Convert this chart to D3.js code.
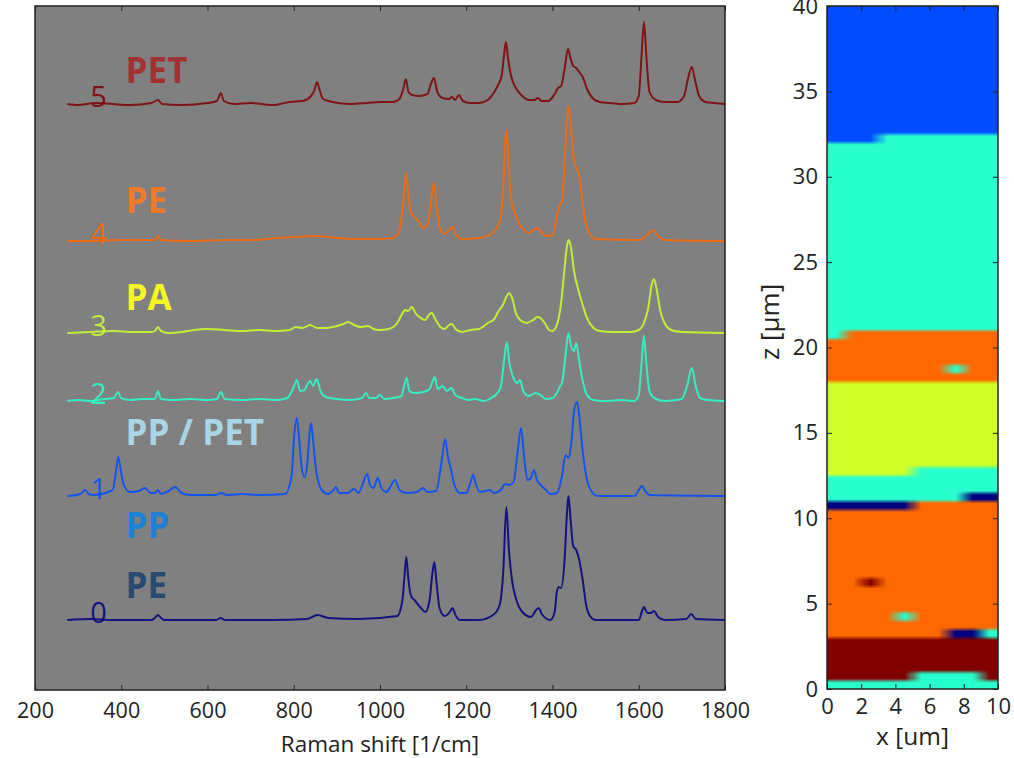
<!DOCTYPE html>
<html>
<head>
<meta charset="utf-8">
<script src="https://cdn.jsdelivr.net/npm/d3@7"></script>
<style>
	body { margin: 0; background: #fff; }
	svg text { font-family: "Open Sans", sans-serif; }
</style>
</head>
<body>
<svg id="chart" width="1014" height="758"></svg>
<script>

// ---- data ----

const ramanTicks = [200, 400, 600, 800, 1000, 1200, 1400, 1600, 1800];
const xTicksUm = [0, 2, 4, 6, 8, 10];
const zTicksUm = [0, 5, 10, 15, 20, 25, 30, 35, 40];

// vertical offset of each spectrum (a.u.)
const offsets = [70, 194, 289, 357, 449, 586];

// [raman shift 1/cm, intensity a.u. above offset]
const spectrum0 = [[275,0],[330,1],[380,0],[470,0],[480,3],[485,5],[490,3],[500,0],[620,0],[631,2],[640,0],[750,0],[830,1],[855,5],[880,2],[950,1],[1040,4],[1052,20],[1057,45],[1061,63],[1066,40],[1072,24],[1080,20],[1095,12],[1105,8],[1115,20],[1121,45],[1126,58],[1131,38],[1138,12],[1150,4],[1162,8],[1168,12],[1175,5],[1185,0],[1230,0],[1265,6],[1278,16],[1286,50],[1293,113],[1299,70],[1306,40],[1315,22],[1330,8],[1350,3],[1362,10],[1368,12],[1375,6],[1395,0],[1405,8],[1410,28],[1415,33],[1420,32],[1428,60],[1434,110],[1437,124],[1442,100],[1448,74],[1455,70],[1462,60],[1470,40],[1478,15],[1487,4],[1500,0],[1600,0],[1607,8],[1612,13],[1620,7],[1628,7],[1635,9],[1645,3],[1660,0],[1710,1],[1722,6],[1732,1],[1800,0]];

const spectrum1 = [[275,0],[305,2],[316,6],[325,2],[335,1],[380,6],[388,25],[393,39],[398,28],[405,12],[420,4],[440,5],[455,8],[468,3],[478,3],[485,6],[492,2],[510,5],[525,9],[540,3],[560,1],[620,1],[631,3],[645,1],[680,2],[720,1],[780,2],[795,20],[801,60],[807,78],[812,60],[818,30],[825,19],[832,35],[836,60],[840,73],[845,55],[852,25],[865,6],[880,2],[892,6],[898,9],[905,3],[925,3],[940,7],[950,3],[960,12],[970,22],[978,10],[985,8],[995,18],[1003,8],[1015,4],[1025,10],[1035,16],[1045,6],[1060,3],[1085,4],[1100,8],[1110,4],[1130,5],[1143,35],[1151,57],[1158,38],[1165,26],[1172,12],[1185,3],[1200,3],[1210,14],[1216,21],[1222,12],[1232,4],[1245,5],[1255,6],[1265,3],[1280,6],[1290,12],[1300,11],[1310,14],[1318,40],[1327,68],[1334,40],[1342,16],[1350,18],[1357,26],[1364,16],[1375,10],[1385,6],[1395,2],[1410,3],[1422,20],[1430,41],[1438,38],[1444,55],[1450,85],[1457,94],[1462,80],[1470,45],[1480,16],[1490,5],[1505,0],[1590,0],[1600,6],[1607,10],[1615,5],[1625,1],[1800,0]];

const spectrum2 = [[275,0],[300,1],[330,0],[360,2],[383,3],[392,9],[400,3],[420,1],[450,2],[478,2],[485,10],[492,2],[520,1],[560,2],[600,1],[622,2],[631,9],[640,2],[680,1],[720,2],[760,1],[785,3],[800,14],[807,21],[815,10],[825,11],[832,17],[838,20],[845,15],[853,22],[862,10],[875,4],[900,2],[930,1],[958,3],[968,8],[975,3],[990,3],[1000,6],[1010,2],[1030,3],[1050,5],[1056,15],[1062,23],[1068,10],[1080,8],[1100,9],[1115,12],[1122,20],[1127,24],[1134,12],[1145,15],[1155,10],[1165,13],[1175,6],[1190,3],[1205,1],[1220,2],[1240,0],[1258,3],[1270,7],[1280,14],[1287,38],[1294,59],[1300,38],[1308,25],[1318,18],[1325,21],[1332,10],[1345,5],[1360,8],[1372,6],[1385,2],[1400,3],[1410,8],[1418,15],[1422,18],[1430,45],[1437,68],[1443,55],[1450,50],[1455,58],[1462,40],[1470,20],[1480,6],[1495,1],[1520,0],[1560,1],[1590,0],[1600,6],[1606,35],[1612,65],[1618,35],[1626,8],[1640,2],[1660,0],[1700,2],[1712,15],[1723,33],[1732,15],[1742,3],[1760,1],[1800,0]];

const spectrum3 = [[275,0],[330,1],[380,2],[430,1],[470,1],[478,2],[485,6],[492,2],[510,0],[540,1],[570,3],[600,4],[640,3],[680,2],[720,3],[760,2],[790,3],[805,6],[820,5],[838,8],[855,5],[875,5],[900,7],[915,9],[926,11],[940,8],[955,6],[972,7],[985,4],[1000,3],[1020,4],[1040,10],[1050,18],[1058,23],[1065,22],[1074,26],[1082,20],[1095,15],[1105,13],[1113,18],[1120,20],[1128,14],[1140,6],[1150,4],[1160,8],[1167,9],[1175,4],[1190,1],[1210,3],[1230,4],[1250,10],[1265,14],[1275,22],[1285,28],[1293,36],[1300,40],[1307,34],[1315,20],[1325,13],[1340,10],[1355,13],[1365,16],[1372,15],[1382,10],[1392,3],[1400,2],[1410,8],[1420,30],[1428,65],[1434,88],[1438,93],[1443,85],[1450,62],[1460,43],[1470,28],[1480,15],[1495,5],[1510,2],[1540,1],[1580,1],[1600,3],[1612,10],[1622,25],[1630,48],[1635,54],[1641,45],[1650,22],[1660,10],[1675,3],[1700,1],[1800,0]];

const spectrum4 = [[275,0],[330,0],[400,1],[478,1],[485,5],[492,1],[550,0],[650,1],[700,1],[760,3],[800,4],[850,5],[900,3],[950,2],[1000,2],[1030,3],[1045,10],[1053,35],[1061,68],[1066,45],[1072,28],[1080,24],[1092,18],[1100,13],[1110,16],[1118,40],[1125,58],[1131,36],[1138,14],[1150,7],[1162,12],[1169,14],[1176,6],[1190,2],[1230,3],[1260,8],[1275,16],[1284,40],[1293,111],[1298,80],[1303,45],[1315,25],[1330,13],[1345,8],[1360,12],[1366,13],[1373,9],[1390,5],[1400,6],[1408,20],[1415,34],[1422,40],[1430,95],[1437,135],[1443,110],[1450,80],[1455,74],[1462,64],[1468,45],[1476,20],[1485,8],[1500,2],[1600,1],[1620,6],[1633,11],[1645,5],[1660,1],[1800,0]];

const spectrum5 = [[275,0],[300,-1],[340,1],[380,0],[420,-1],[470,1],[485,4],[495,0],[540,-1],[600,1],[622,3],[631,11],[638,3],[660,0],[700,1],[750,-1],[790,2],[820,3],[840,8],[848,14],[854,22],[860,14],[868,5],[890,2],[930,0],[970,1],[1000,2],[1030,2],[1045,5],[1054,15],[1060,25],[1066,12],[1075,9],[1090,8],[1110,10],[1118,20],[1125,26],[1133,12],[1145,6],[1160,5],[1167,7],[1174,4],[1183,9],[1192,3],[1210,1],[1230,1],[1250,4],[1265,12],[1275,20],[1282,28],[1288,50],[1292,62],[1297,45],[1304,28],[1315,16],[1330,8],[1345,4],[1358,4],[1366,6],[1375,3],[1390,3],[1405,10],[1413,16],[1420,18],[1428,35],[1436,55],[1441,47],[1448,38],[1455,36],[1462,32],[1470,27],[1480,15],[1495,5],[1510,2],[1530,1],[1560,0],[1590,1],[1600,8],[1606,45],[1612,82],[1618,45],[1625,12],[1640,4],[1660,2],[1690,2],[1705,8],[1714,25],[1723,37],[1730,25],[1740,8],[1755,2],[1775,1],[1800,0]];

const spectra = [spectrum0, spectrum1, spectrum2, spectrum3, spectrum4, spectrum5];

const materialNames = ["PE", "PP", "PP / PET", "PA", "PE", "PET"];
const materialColors = ["#284a6e", "#1e80d6", "#a8d6e6", "#f6f626", "#ee7a2c", "#a23232"];
// label baseline height (a.u.)
const materialLabelY = [92, 152, 245, 380, 477, 607];

// cluster map, 10 columns of 1 um, rows of 0.5 um from z = 0 upwards
// [number of rows, cluster index per column]
const zBands = [
	[1,  "2222222222"],
	[1,  "5555522225"],
	[4,  "5555555555"],
	[1,  "4444444002"],
	[1,  "4444444444"],
	[1,  "4444244444"],
	[3,  "4444444444"],
	[1,  "4454444444"],
	[8,  "4444444444"],
	[1,  "0000044444"],
	[1,  "2222222200"],
	[2,  "2222222222"],
	[1,  "3333322222"],
	[10, "3333333333"],
	[1,  "4444444444"],
	[1,  "4444444244"],
	[3,  "4444444444"],
	[1,  "2444444444"],
	[22, "2222222222"],
	[1,  "1112222222"],
	[15, "1111111111"]
];
const cellWidth = 1, cellHeight = 0.5;

// ---- helpers ----

// matplotlib "jet"
const jetR = d3.scaleLinear().domain([0, 0.35, 0.66, 0.89, 1]).range([0, 0, 1, 1, 0.5]).clamp(true);
const jetG = d3.scaleLinear().domain([0, 0.125, 0.375, 0.64, 0.91, 1]).range([0, 0, 1, 1, 0, 0]).clamp(true);
const jetB = d3.scaleLinear().domain([0, 0.11, 0.34, 0.65, 1]).range([0.5, 1, 1, 0, 0]).clamp(true);
function jet(t) {
	return d3.rgb(jetR(t) * 255, jetG(t) * 255, jetB(t) * 255).formatHex();
}
const clusterColor = k => jet(k / 5);

const svg = d3.select('#chart');

// ---- spectra panel ----

const x = d3.scaleLinear().domain([200, 1800]).range([35, 725]);
const y = d3.scaleLinear().domain([0, 684]).range([690, 6]);

svg.append('rect')
	.attr('x', x(200)).attr('y', y(684))
	.attr('width', x(1800) - x(200)).attr('height', y(0) - y(684))
	.attr('fill', '#808080');

const spec = svg.append('g');

spectra.forEach((pts, i) => {
	const off = offsets[i];
	const line = d3.line()
		.x(d => x(d[0]))
		.y(d => y(d[1] + off))
		.curve(d3.curveMonotoneX);

	spec.append('path')
		.attr('d', line(pts))
		.attr('fill', 'none')
		.attr('stroke', clusterColor(i))
		.attr('stroke-opacity', 0.85)
		.attr('stroke-width', 2)
		.attr('stroke-linejoin', 'round');

	spec.append('text')
		.attr('x', x(328)).attr('y', y(off) + 3)
		.attr('fill', clusterColor(i))
		.attr('fill-opacity', 0.85)
		.style('font-size', '29px')
		.text(i);
});

// material labels
materialNames.forEach((name, i) => {
	spec.append('text')
		.attr('x', x(410))
		.attr('y', y(materialLabelY[i]))
		.attr('fill', materialColors[i])
		.style('font-size', '35px')
		.style('font-weight', 'bold')
		.text(name);
});

const xAxis = svg.append('g')
	.attr('transform', `translate(0,${y(0)})`)
	.call(d3.axisBottom(x).tickValues(ramanTicks).tickFormat(d3.format('d'))
		.tickSizeInner(-5).tickSizeOuter(0).tickPadding(13));
const xAxisTop = svg.append('g')
	.attr('transform', `translate(0,${y(684)})`)
	.call(d3.axisTop(x).tickValues(ramanTicks).tickSizeInner(-5).tickSizeOuter(0).tickFormat(''));

svg.append('rect')
	.attr('x', x(200)).attr('y', y(684))
	.attr('width', x(1800) - x(200)).attr('height', y(0) - y(684))
	.attr('fill', 'none').attr('stroke', '#222').attr('stroke-width', 1.5);

svg.append('text')
	.attr('x', (x(200) + x(1800)) / 2).attr('y', 752)
	.attr('text-anchor', 'middle')
	.attr('fill', '#222')
	.style('font-size', '22.5px')
	.text('Raman shift [1/cm]');

// ---- cluster map panel ----

const hx = d3.scaleLinear().domain([0, 10]).range([827, 998]);
const hz = d3.scaleLinear().domain([0, 40]).range([689, 6]);

const cells = [];
let row = 0;
zBands.forEach(([n, cols]) => {
	for (let k = 0; k < n; k++, row++) {
		cols.split('').forEach((ch, c) => {
			cells.push({ x0: c * cellWidth, z0: row * cellHeight, k: +ch });
		});
	}
});

// paint the cells on a small canvas, the browser then smooths it when
// it is stretched over the axes (like imshow interpolation)
const subRows = 2;
const grid = document.createElement('canvas');
grid.width = 10 / cellWidth;
grid.height = 40 / cellHeight * subRows;
const gx = d3.scaleLinear().domain([0, 10]).range([0, grid.width]);
const gz = d3.scaleLinear().domain([0, 40]).range([grid.height, 0]);
const ctx = grid.getContext('2d');
cells.forEach(d => {
	ctx.fillStyle = clusterColor(d.k);
	ctx.fillRect(gx(d.x0), gz(d.z0 + cellHeight),
		gx(d.x0 + cellWidth) - gx(d.x0), gz(d.z0) - gz(d.z0 + cellHeight));
});

svg.append('image')
	.attr('href', grid.toDataURL())
	.attr('x', hx(0)).attr('y', hz(40))
	.attr('width', hx(10) - hx(0)).attr('height', hz(0) - hz(40))
	.attr('preserveAspectRatio', 'none');

function styleAxis(g, size) {
	g.select('.domain').remove();
	g.selectAll('.tick line').attr('stroke', '#222');
	g.selectAll('.tick text').attr('fill', '#222').style('font-size', size);
}

const hxAxis = svg.append('g')
	.attr('transform', `translate(0,${hz(0)})`)
	.call(d3.axisBottom(hx).tickValues(xTicksUm).tickSizeInner(-5).tickSizeOuter(0).tickPadding(9));
const hxAxisTop = svg.append('g')
	.attr('transform', `translate(0,${hz(40)})`)
	.call(d3.axisTop(hx).tickValues(xTicksUm).tickSizeInner(-5).tickSizeOuter(0).tickFormat(''));
const hzAxis = svg.append('g')
	.attr('transform', `translate(${hx(0)},0)`)
	.call(d3.axisLeft(hz).tickValues(zTicksUm).tickSizeInner(-5).tickSizeOuter(0).tickPadding(9));
const hzAxisRight = svg.append('g')
	.attr('transform', `translate(${hx(10)},0)`)
	.call(d3.axisRight(hz).tickValues(zTicksUm).tickSizeInner(-5).tickSizeOuter(0).tickFormat(''));

styleAxis(xAxis, '21.5px');
styleAxis(xAxisTop, '21.5px');
styleAxis(hxAxis, '22px');
styleAxis(hxAxisTop, '22px');
styleAxis(hzAxis, '22px');
styleAxis(hzAxisRight, '22px');

svg.append('rect')
	.attr('x', hx(0)).attr('y', hz(40))
	.attr('width', hx(10) - hx(0)).attr('height', hz(0) - hz(40))
	.attr('fill', 'none').attr('stroke', '#222').attr('stroke-width', 1.5);

svg.append('text')
	.attr('transform', `translate(779,${hz(21.5)}) rotate(-90)`)
	.attr('text-anchor', 'middle')
	.attr('fill', '#222')
	.style('font-size', '26px')
	.text('z [μm]');

svg.append('text')
	.attr('x', (hx(0) + hx(10)) / 2).attr('y', 745)
	.attr('text-anchor', 'middle')
	.attr('fill', '#222')
	.style('font-size', '24.5px')
	.text('x [um]');

</script>
</body>
</html>
